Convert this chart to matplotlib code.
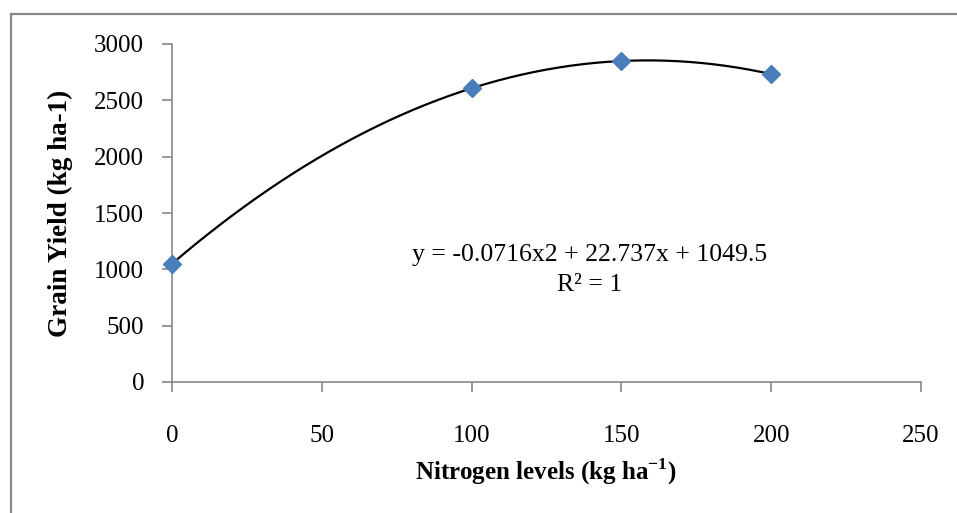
import numpy as np
import matplotlib
matplotlib.use("Agg")
import matplotlib.pyplot as plt
from matplotlib.patches import Rectangle

# data
nitrogen = [0, 100, 150, 200]
grain_yield = [1045, 2610, 2850, 2735]

# trendline coefficients shown on the chart (a*x^2 + b*x + c)
trend_coef = [-0.0716, 22.737, 1049.5]

x_ticks = [0, 50, 100, 150, 200, 250]
y_ticks = [0, 500, 1000, 1500, 2000, 2500, 3000]

plt.rcParams['font.family'] = ['Liberation Serif', 'DejaVu Serif']
plt.rcParams['mathtext.fontset'] = 'custom'
plt.rcParams['mathtext.rm'] = 'Liberation Serif'
plt.rcParams['mathtext.bf'] = 'Liberation Serif:bold'

fig = plt.figure(figsize=(9.57, 5.13), dpi=100)
ax = fig.add_axes([172/957, 1 - 382/513, (921 - 172)/957, (382 - 44)/513])

# outer chart border (cut off at right and bottom)
fig.patches.append(Rectangle((11/957, -0.1), 1.1, 1 - 14/513 + 0.1,
                             transform=fig.transFigure, fill=False,
                             edgecolor='#878787', linewidth=1.6))

xs = np.linspace(min(nitrogen), max(nitrogen), 200)
ax.plot(xs, np.polyval(trend_coef, xs), color='black', linewidth=1.6, zorder=2)
ax.plot(nitrogen, grain_yield, linestyle='none', marker='D', markersize=9.5,
        color='#4a7ebb', zorder=3, clip_on=False)

ax.set_xlim(0, 250)
ax.set_ylim(0, 3000)
ax.set_xticks(x_ticks)
ax.set_yticks(y_ticks)

for side in ['top', 'right']:
    ax.spines[side].set_visible(False)
for side in ['left', 'bottom']:
    ax.spines[side].set_color('#878787')
    ax.spines[side].set_linewidth(1.2)

ax.tick_params(axis='both', direction='out', length=7, width=1.2,
               color='#878787', labelsize=18)
ax.tick_params(axis='y', pad=13)
ax.tick_params(axis='x', pad=24)

ax.set_ylabel('Grain Yield (kg ha-1)', fontsize=19.5, fontweight='bold')
ax.yaxis.set_label_coords(-0.132, 0.5)
fig.text(546/957, 1 - 472/513, 'Nitrogen levels (kg ha$^{\\mathbf{-1}}$)',
         fontsize=18, fontweight='bold', ha='center', va='center')

fig.text(590/957, 1 - 255/513, 'y = -0.0716x2 + 22.737x + 1049.5',
         fontsize=18.5, ha='center', va='center')
fig.text(590/957, 1 - 285/513, 'R² = 1', fontsize=18.5, ha='center', va='center')

fig.savefig('out.png', dpi=100)
